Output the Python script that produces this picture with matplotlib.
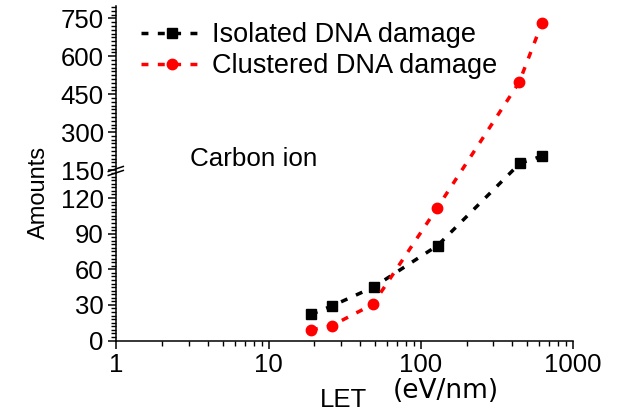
import numpy as np
import matplotlib
matplotlib.use("Agg")
import matplotlib.pyplot as plt
from matplotlib.lines import Line2D

# ---- data ----
let_isolated = [19, 26, 49, 129, 449, 627]
amount_isolated = [22, 29, 45, 80, 177, 205]
let_clustered = [19, 26, 48.5, 128, 443, 627]
amount_clustered = [8.8, 12.5, 30.5, 111.5, 497, 733]

y_major = [0, 30, 60, 90, 120, 150, 300, 450, 600, 750]
x_major = [1, 10, 100, 1000]
x_labels = ["1", "10", "100", "1000"]

# broken-axis mapping (value -> pixel height above bottom)
V = np.array([0.0, 142.0, 150.0, 800.0])
D = np.array([0.0, 168.6, 170.5, 334.8])

def fwd(v):
    return np.interp(v, V, D)

def inv(d):
    return np.interp(d, D, V)

plt.rcParams['font.family'] = ['Liberation Sans', 'DejaVu Sans']

W, H = 617, 412
fig = plt.figure(figsize=(W / 100, H / 100), dpi=100)
ax = fig.add_axes([116.3 / W, (H - 340.5) / H, (573 - 116.3) / W, (340.5 - 5.7) / H])

ax.set_xscale('log')
ax.set_yscale('function', functions=(fwd, inv))
ax.set_xlim(1, 1000)
ax.set_ylim(0, 800)

lw = 2.5
dash = (0, (2.0, 2.7))
ax.plot(let_isolated, amount_isolated, color='black', lw=lw, linestyle=dash,
        marker='s', markersize=6.5, label='Isolated DNA damage', zorder=3)
ax.plot(let_clustered, amount_clustered, color='#ff0000', lw=lw, linestyle=dash,
        marker='o', markersize=7.5, label='Clustered DNA damage', zorder=4)

for s in ['top', 'right']:
    ax.spines[s].set_visible(False)
for s in ['left', 'bottom']:
    ax.spines[s].set_linewidth(1.1)

ax.set_yticks(y_major)
ax.set_yticklabels([str(v) for v in y_major])
minor_low = [v for v in range(3, 142, 3) if v % 30 != 0]
minor_high = [v for v in range(165, 800, 15) if v % 150 != 0]
ax.set_yticks(minor_low + minor_high, minor=True)

ax.set_xticks(x_major)
ax.set_xticklabels(x_labels)
ax.xaxis.set_minor_locator(matplotlib.ticker.LogLocator(base=10, subs=np.arange(2, 10)))
ax.xaxis.set_minor_formatter(matplotlib.ticker.NullFormatter())

ax.tick_params(axis='both', which='major', direction='out', length=6, width=1.1,
               labelsize=18.5, pad=3)
ax.tick_params(axis='both', which='minor', direction='out', length=3.5, width=1.0)

# break marks on y axis
xb, yb = ax.transData.transform((1, 146))
for dy in (-2.0, 2.0):
    x0, y0 = xb - 8, yb + dy - 2.5
    x1, y1 = xb + 7, yb + dy + 2.5
    fig.add_artist(Line2D([x0 / W, x1 / W], [y0 / H, y1 / H], transform=fig.transFigure,
                          color='black', lw=1.1))

leg = ax.legend(loc='upper left', bbox_to_anchor=(141 / W, (H - 22) / H),
                bbox_transform=fig.transFigure, frameon=False, fontsize=19.5,
                handlelength=2.3, handletextpad=0.33, labelspacing=0.2,
                borderpad=0, borderaxespad=0, numpoints=1)

fig.text(190 / W, (H - 166) / H, 'Carbon ion', fontsize=18.7, va='baseline', ha='left')
fig.text(39 / W, (H - 192) / H, 'Amounts', fontsize=17, rotation=90, va='center', ha='center')
fig.text(344 / W, (H - 407) / H, 'LET', fontsize=18.5, va='baseline', ha='center')
fig.text(446 / W, (H - 398) / H, '(eV/nm)', fontsize=19, va='baseline', ha='center',
         family='DejaVu Sans')

fig.savefig('out.png', dpi=100)
